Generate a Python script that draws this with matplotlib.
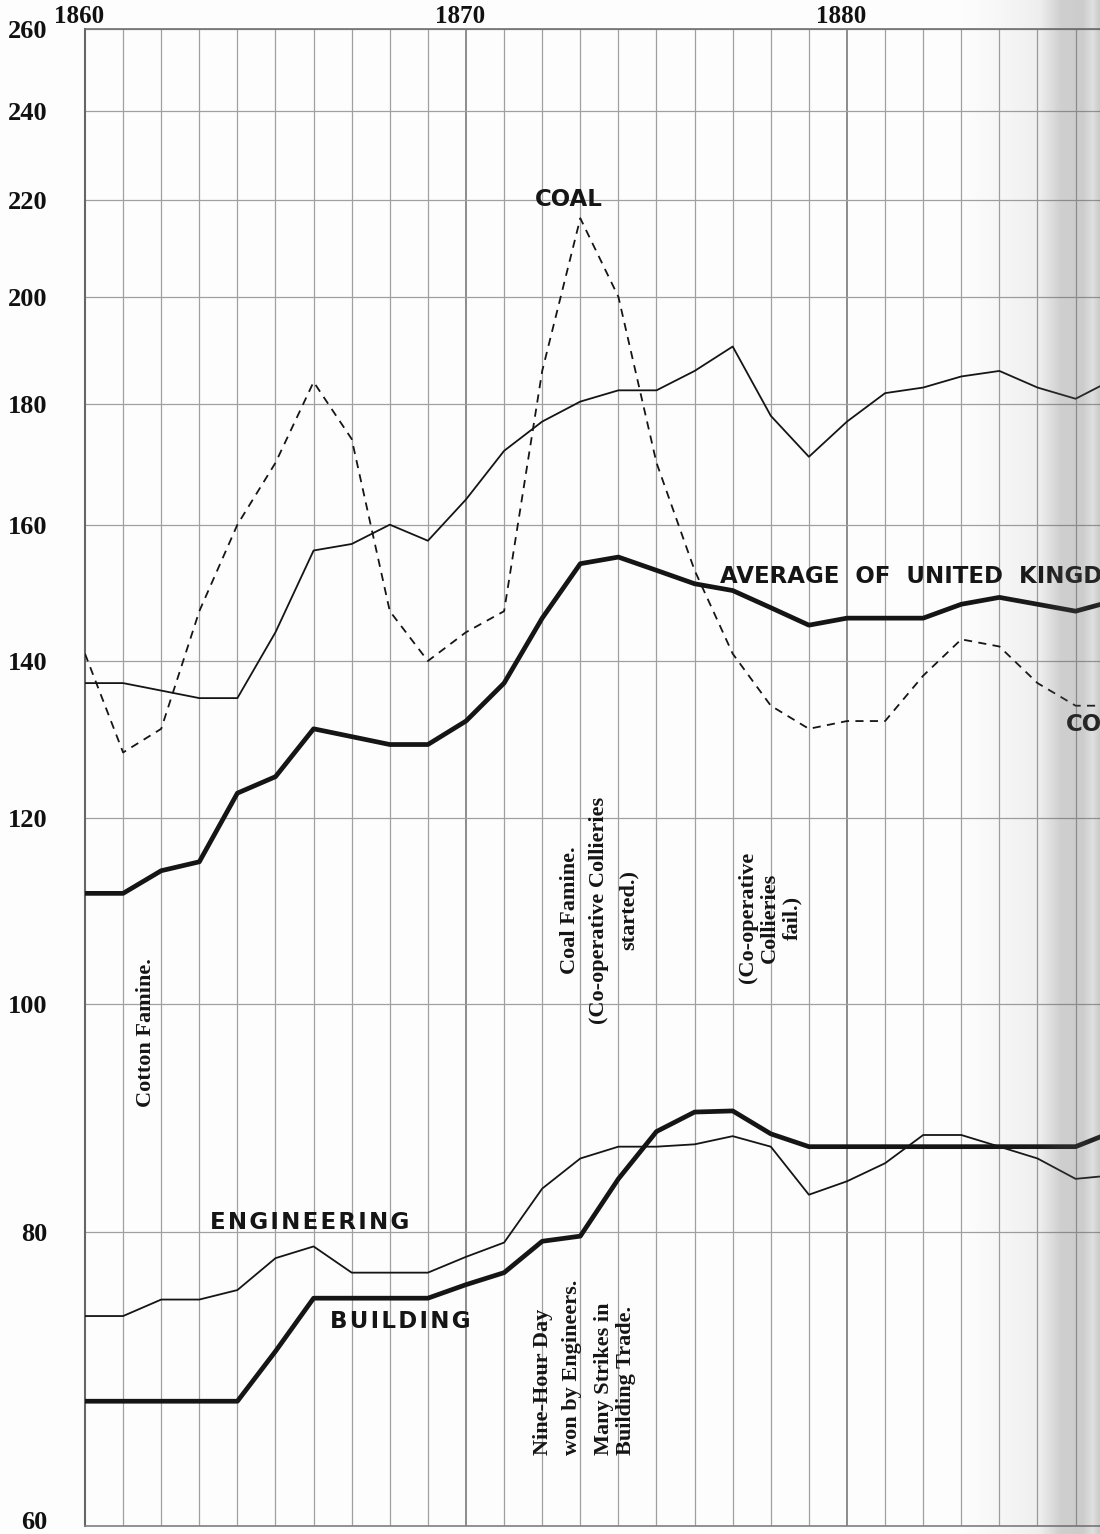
import numpy as np
import matplotlib.pyplot as plt
import matplotlib.transforms as mtransforms
from matplotlib.ticker import NullLocator, NullFormatter

# values (index numbers, log scale)
years = list(range(1860, 1888))
coal = [141, 128, 131, 147, 160, 170, 184, 174, 147, 140, 144, 147, 186, 216,
        200, 170, 153, 141, 134, 131, 132, 132, 138, 143, 142, 137, 134, 134]
other = [137, 137, 136, 135, 135, 144, 156, 157, 160, 157.5, 164, 172, 177, 180.5,
         182.5, 182.5, 186, 190.5, 178, 171, 177, 182, 183, 185, 186, 183, 181, 184.5]
average = [111.5, 111.5, 114, 115, 123, 125, 131, 130, 129, 129, 132, 137, 146, 154,
           155, 153, 151, 150, 147.5, 145, 146, 146, 146, 148, 149, 148, 147, 148.5]
engineering = [73.7, 73.7, 74.9, 74.9, 75.6, 78, 78.9, 76.9, 76.9, 76.9, 78.1, 79.2, 83.5, 86,
               87, 87, 87.2, 87.9, 87, 83, 84.1, 85.6, 88, 88, 87, 86, 84.3, 84.6]
building = [67.8, 67.8, 67.8, 67.8, 67.8, 71.2, 75, 75, 75, 75, 76, 76.9, 79.3, 79.7,
            84.3, 88.3, 90, 90.1, 88.1, 87, 87, 87, 87, 87, 87, 87, 87, 88.3]

y_ticks = [60, 80, 100, 120, 140, 160, 180, 200, 220, 240, 260]
year_labels = [1860, 1870, 1880]

W, H = 1100, 1534
fig = plt.figure(figsize=(W / 100, H / 100), dpi=100)
fig.patch.set_facecolor('#fdfdfd')
ax = fig.add_axes([85 / W, 1 - 1526 / H, 1 - 85 / W, (1526 - 29) / H])
ax.set_facecolor('#fdfdfd')
ax.set_yscale('log')
ax.set_xlim(1860, 1860 + (W - 85) / 38.1)
ax.set_ylim(60, 260)

# grid
for yr in years:
    dec = yr % 10 == 0
    ax.axvline(yr, color='#7a7a7a' if dec else '#a0a0a0', lw=1.2 if dec else 0.9, zorder=1)
for v in y_ticks:
    ax.axhline(v, color='#a0a0a0', lw=0.9, zorder=1)

ax.spines['right'].set_visible(False)
ax.spines['left'].set_color('#666666')
ax.spines['left'].set_linewidth(1.5)
ax.spines['top'].set_color('#707070')
ax.spines['top'].set_linewidth(1.2)
ax.spines['bottom'].set_color('#808080')
ax.spines['bottom'].set_linewidth(1.2)

# ticks
ax.set_yticks(y_ticks)
ax.set_yticklabels([str(v) for v in y_ticks])
ax.yaxis.set_minor_locator(NullLocator())
ax.yaxis.set_minor_formatter(NullFormatter())
ax.tick_params(axis='y', length=0, pad=27)
ax.xaxis.tick_top()
ax.set_xticks(year_labels)
ax.set_xticklabels([str(y) for y in year_labels])
ax.tick_params(axis='x', length=0, pad=1)
for lab in ax.get_yticklabels() + ax.get_xticklabels():
    lab.set_fontfamily('Liberation Serif')
    lab.set_fontweight('bold')
    lab.set_color('#111111')
for lab in ax.get_yticklabels():
    lab.set_fontsize(19)
# bottom label sits right on the page edge, lift it a little
lift = mtransforms.ScaledTranslation(0, 0.06, fig.dpi_scale_trans)
ylab0 = ax.get_yticklabels()[0]
ylab0.set_transform(ylab0.get_transform() + lift)
shift = mtransforms.ScaledTranslation(-0.06, 0, fig.dpi_scale_trans)
for lab in ax.get_xticklabels():
    lab.set_fontsize(18)
    lab.set_transform(lab.get_transform() + shift)

# series
ink = '#151515'
ax.plot(years, coal, color=ink, lw=1.3, ls=(0, (4.5, 3.5)), zorder=3)
ax.plot(years, other, color=ink, lw=1.3, zorder=3)
ax.plot(years, average, color=ink, lw=3.4, zorder=3, solid_joinstyle='round')
ax.plot(years, engineering, color=ink, lw=1.3, zorder=3)
ax.plot(years, building, color=ink, lw=3.4, zorder=3, solid_joinstyle='round')

# series labels
sans = dict(family='DejaVu Sans', fontweight='bold', color=ink, fontsize=16.5, zorder=4)
hs = '\u200a'
ax.text(1872.7, 217.5, 'COAL', ha='center', va='bottom', **sans)
ax.text(1876.67, 152.1, 'AVERAGE  OF  UNITED  KINGDOM', ha='left', va='center', **sans)
ax.text(1885.75, 131.5, 'COAL', ha='left', va='center', **sans)
ax.text(1863.28, 80.8, hs.join('ENGINEERING'), ha='left', va='center', **sans)
ax.text(1866.42, 73.3, hs.join('BUILDING'), ha='left', va='center', **sans)

# event notes (rotated)
serif = dict(family='Liberation Serif', fontweight='bold', color=ink, fontsize=16,
             rotation=90, zorder=4)
ax.text(1861.59, 97.3, 'Cotton Famine.', ha='center', va='center', **serif)
ax.text(1873.5, 109.7, 'Coal Famine.\n(Co-operative Collieries\nstarted.)',
        ha='center', va='center', multialignment='center', linespacing=1.6, **serif)
ax.text(1877.98, 108.9, '(Co-operative\nCollieries\nfail.)',
        ha='center', va='center', multialignment='center', linespacing=1.15, **serif)
ax.text(1872.4, 64.3, 'Nine-Hour Day\nwon by Engineers.',
        ha='center', va='bottom', multialignment='left', linespacing=1.6, **serif)
ax.text(1873.92, 64.3, 'Many Strikes in\nBuilding Trade.',
        ha='center', va='bottom', multialignment='left', linespacing=1.15, **serif)

# page gutter shading at the right edge
sh = fig.add_axes([960 / W, 0, 140 / W, 1], zorder=10)
sh.set_axis_off()
xs = np.linspace(0, 1, 140)
alpha = np.interp(xs, [0, 0.3, 0.57, 0.72, 0.88, 0.95, 1.0], [0, 0.04, 0.09, 0.28, 0.3, 0.18, 0.3])
rgba = np.zeros((1, len(xs), 4))
rgba[..., :3] = 0.35
rgba[..., 3] = alpha
sh.imshow(rgba, aspect='auto', extent=[0, 1, 0, 1])

fig.savefig('out.png', dpi=100, facecolor=fig.get_facecolor())
